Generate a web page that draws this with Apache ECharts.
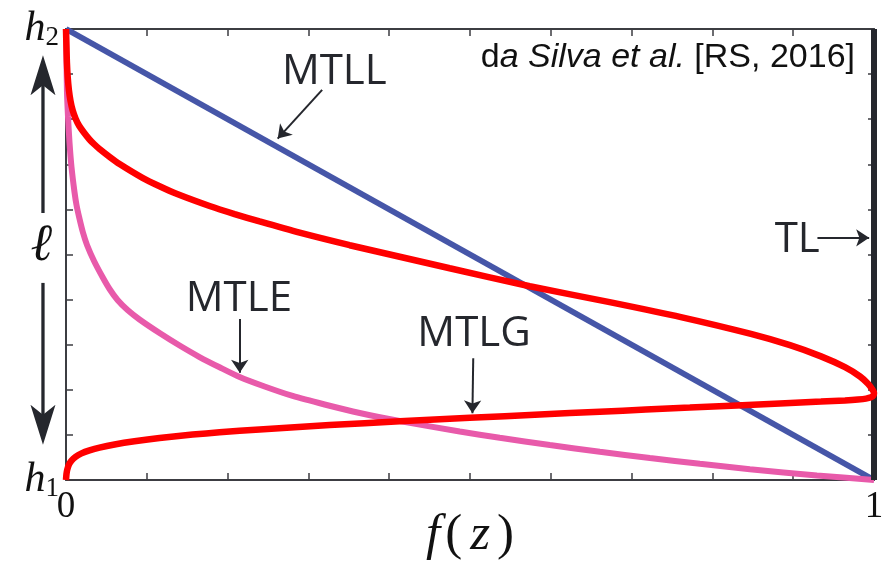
<!DOCTYPE html>
<html>
<head>
<meta charset="utf-8">
<script src="https://cdn.jsdelivr.net/npm/echarts@6/dist/echarts.min.js"></script>
<style>
  html, body { margin: 0; padding: 0; background: #ffffff; }
  #chart { width: 888px; height: 568px; }
</style>
</head>
<body>
<div id="chart"></div>
<script>
// Normalised current profile f(z) along the channel, h1 (0) to h2 (1).
const heightTicks = [0, 1];

// MTLL: linear decay
const mtllCurve = [[0, 1], [1, 0]];

// MTLE: exponential decay
const mtleCurve = [
  [0, 1], [0.0006, 0.9313], [0.0012, 0.8603], [0.0025, 0.8049], [0.0043, 0.7494],
  [0.0068, 0.694], [0.0105, 0.6386], [0.013, 0.6098], [0.0165, 0.5809], [0.0208, 0.5499],
  [0.026, 0.5211], [0.0347, 0.4856], [0.0452, 0.4501], [0.0539, 0.4235], [0.0638, 0.3991],
  [0.0762, 0.3769], [0.091, 0.3559], [0.1158, 0.3259], [0.1406, 0.2982], [0.1653, 0.2727],
  [0.1901, 0.2499], [0.2149, 0.2284], [0.2458, 0.2073], [0.2805, 0.1863], [0.3201, 0.1674],
  [0.3635, 0.1486], [0.413, 0.1308], [0.4873, 0.1075], [0.5368, 0.0936], [0.5988, 0.0776],
  [0.6607, 0.0625], [0.7226, 0.0488], [0.7845, 0.0359], [0.8464, 0.0239], [0.9294, 0.01],
  [1, 0]
];

// MTLG: Gaussian-type profile, peak near the base
const mtlgCurve = [
  [0, 1], [0.0005, 0.9645], [0.0011, 0.9268], [0.0021, 0.8936], [0.0036, 0.8647],
  [0.0056, 0.8404], [0.0083, 0.8193], [0.0118, 0.8016], [0.0161, 0.786], [0.0217, 0.7716],
  [0.0291, 0.755], [0.0353, 0.7439], [0.0415, 0.7339], [0.0539, 0.7166], [0.0663, 0.7007],
  [0.0947, 0.6701], [0.1158, 0.6514], [0.1368, 0.6346], [0.1777, 0.6075], [0.2087, 0.5896],
  [0.2396, 0.5732], [0.2892, 0.5483], [0.3511, 0.5206], [0.413, 0.4951], [0.4749, 0.4696],
  [0.574, 0.4297], [0.6743, 0.3938], [0.761, 0.3612], [0.8477, 0.3239], [0.896, 0.2989],
  [0.9344, 0.2741], [0.9641, 0.2501], [0.9827, 0.2295], [0.9926, 0.2135], [0.9975, 0.202],
  [1, 0.1929], [0.9994, 0.1874], [0.9963, 0.1834], [0.9901, 0.1805], [0.9802, 0.1785],
  [0.9641, 0.1765], [0.9344, 0.1738], [0.8836, 0.1698], [0.8303, 0.1654], [0.7721, 0.1605],
  [0.7176, 0.1561], [0.6607, 0.1514], [0.5864, 0.1452], [0.4997, 0.1379], [0.413, 0.1302],
  [0.3263, 0.1217], [0.2396, 0.1122], [0.1901, 0.1058], [0.1567, 0.1007], [0.1158, 0.0931],
  [0.0848, 0.0858], [0.0601, 0.0787], [0.0415, 0.0718], [0.0291, 0.0656], [0.0192, 0.059],
  [0.0118, 0.0514], [0.0068, 0.0432], [0.0037, 0.0344], [0.0016, 0.0233], [0.0006, 0.0133],
  [0, 0]
];

// TL: uniform current
const tlCurve = [[1, 0], [1, 1]];

// Model names and where their labels / pointer arrows sit (data units)
const modelNames = ['MTLL', 'MTLE', 'MTLG', 'TL'];
const labelAnchors = [[0.332, 0.904], [0.214, 0.402], [0.505, 0.324], [0.905, 0.532]];
const pointerArrows = [
  [[0.317, 0.865], [0.262, 0.757]],
  [[0.215, 0.357], [0.215, 0.238]],
  [[0.504, 0.27], [0.503, 0.148]],
  [[0.93, 0.537], [0.994, 0.537]]
];

const INK = '#25272d';
const AXIS = '#3c3d42';
const SERIF = '"Liberation Serif", "DejaVu Serif", serif';
const SANS = '"Open Sans", "Noto Sans", sans-serif';
const CITE = '"Liberation Sans", Arial, sans-serif';

const chart = echarts.init(document.getElementById('chart'), null, { renderer: 'canvas' });

const axisCommon = {
  type: 'value',
  min: 0,
  max: 1,
  interval: 0.1,
  splitLine: { show: false },
  axisLine: { show: true, onZero: false, lineStyle: { color: AXIS, width: 2 } },
  axisTick: { show: true, inside: true, length: 7, lineStyle: { color: AXIS, width: 1.5 } }
};

// italic f and z with upright parentheses for the axis title
const nameRich = {
  it: { fontFamily: SERIF, fontStyle: 'italic', fontSize: 51, color: '#111', lineHeight: 52 },
  lp: { fontFamily: SERIF, fontSize: 51, color: '#111', lineHeight: 52, padding: [0, 8, 0, 5] },
  rp: { fontFamily: SERIF, fontSize: 51, color: '#111', lineHeight: 52, padding: [0, 0, 0, 7] }
};

const option = {
  animation: false,
  backgroundColor: '#ffffff',
  title: {
    text: '{r|d}{i|a Silva et al.}{r| [RS, 2016]}',
    right: 33,
    top: 41,
    padding: 0,
    textStyle: {
      fontWeight: 'normal',
      rich: {
        r: { fontFamily: CITE, fontSize: 34, fontWeight: 'normal', color: '#111' },
        i: { fontFamily: CITE, fontSize: 34, fontWeight: 'normal', fontStyle: 'italic', color: '#111' }
      }
    }
  },
  grid: { left: 66, right: 14, top: 29, bottom: 88, containLabel: false, outerBoundsMode: 'none' },
  xAxis: [
    Object.assign({}, axisCommon, {
      position: 'bottom',
      name: '{it|f}{lp|(}{it|z}{rp|)}',
      nameLocation: 'middle',
      nameGap: 30,
      nameMoveOverlap: false,
      nameTextStyle: { rich: nameRich },
      axisLabel: {
        show: true,
        margin: 9,
        fontFamily: SERIF,
        fontSize: 37,
        color: '#111',
        formatter: function (v) {
          for (const t of heightTicks) { if (Math.abs(v - t) < 1e-9) return String(t); }
          return '';
        }
      }
    }),
    Object.assign({}, axisCommon, {
      position: 'top',
      axisLabel: { show: false }
    })
  ],
  yAxis: [
    Object.assign({}, axisCommon, {
      position: 'left',
      axisLabel: {
        show: true,
        margin: 7,
        formatter: function (v) {
          if (Math.abs(v) < 1e-9) return '{i|h}{s|1}';
          if (Math.abs(v - 1) < 1e-9) return '{i|h}{s|2}';
          return '';
        },
        rich: {
          i: { fontFamily: SERIF, fontStyle: 'italic', fontSize: 42, color: '#111', lineHeight: 44, verticalAlign: 'middle' },
          s: { fontFamily: SERIF, fontSize: 27, color: '#111', lineHeight: 24, verticalAlign: 'bottom' }
        }
      }
    }),
    Object.assign({}, axisCommon, {
      position: 'right',
      axisTick: { show: true, inside: true, length: 6, lineStyle: { color: AXIS, width: 1.5 } },
      axisLabel: { show: false }
    })
  ],
  series: [
    {
      name: 'MTLL',
      type: 'line',
      data: mtllCurve,
      showSymbol: false,
      lineStyle: { color: '#4656a8', width: 6 },
      z: 2
    },
    {
      name: 'MTLE',
      type: 'line',
      data: mtleCurve,
      showSymbol: false,
      smooth: 0.25,
      lineStyle: { color: '#e85aaa', width: 6 },
      z: 3
    },
    {
      name: 'TL',
      type: 'line',
      data: tlCurve,
      showSymbol: false,
      lineStyle: { color: INK, width: 6 },
      z: 4,
      markPoint: {
        silent: true,
        symbol: 'circle',
        symbolSize: 0,
        itemStyle: { color: 'rgba(0,0,0,0)' },
        label: {
          show: true,
          position: 'inside',
          fontFamily: SANS,
          fontSize: 42,
          color: INK,
          formatter: function (p) { return p.name; }
        },
        data: modelNames.map(function (n, i) { return { name: n, coord: labelAnchors[i] }; })
      },
      markLine: {
        silent: true,
        symbol: ['none', 'arrow'],
        symbolSize: 13,
        label: { show: false },
        lineStyle: { color: INK, width: 2, type: 'solid' },
        itemStyle: { color: INK },
        emphasis: { disabled: true },
        data: pointerArrows.map(function (a) { return [{ coord: a[0] }, { coord: a[1] }]; })
      }
    },
    {
      name: 'MTLG',
      type: 'line',
      data: mtlgCurve,
      showSymbol: false,
      smooth: 0.25,
      lineStyle: { color: '#ff0000', width: 6.5 },
      z: 5
    }
  ]
};

chart.setOption(option);

// Double arrow with the channel-length symbol, left of the height axis
const ellX = -0.0285;
const ellLabelY = 0.519;
const upTipY = 0.942, upTailY = 0.592;
const downTailY = 0.437, downTipY = 0.078;

function toPx(x, y) { return chart.convertToPixel({ gridIndex: 0 }, [x, y]); }

function arrowHead(tip, dir) {
  // dir: -1 points up, +1 points down
  const len = 40, half = 12.5, notch = 30;
  return [
    [tip[0], tip[1]],
    [tip[0] - half, tip[1] - dir * len],
    [tip[0], tip[1] - dir * notch],
    [tip[0] + half, tip[1] - dir * len]
  ];
}

const upTip = toPx(ellX, upTipY);
const upTail = toPx(ellX, upTailY);
const dnTail = toPx(ellX, downTailY);
const dnTip = toPx(ellX, downTipY);
const ellPos = toPx(ellX - 0.002, ellLabelY);

chart.setOption({
  graphic: [
    { type: 'line', silent: true, shape: { x1: upTip[0], y1: upTip[1] + 28, x2: upTail[0], y2: upTail[1] },
      style: { stroke: INK, lineWidth: 3.3 } },
    { type: 'polygon', silent: true, shape: { points: arrowHead(upTip, -1) }, style: { fill: INK } },
    { type: 'line', silent: true, shape: { x1: dnTail[0], y1: dnTail[1], x2: dnTip[0], y2: dnTip[1] - 28 },
      style: { stroke: INK, lineWidth: 3.3 } },
    { type: 'polygon', silent: true, shape: { points: arrowHead(dnTip, 1) }, style: { fill: INK } },
    { type: 'text', silent: true, x: ellPos[0], y: ellPos[1],
      style: { text: 'ℓ', font: 'italic 52px ' + SERIF, fill: '#111', align: 'center', verticalAlign: 'middle' } }
  ]
});
</script>
</body>
</html>
